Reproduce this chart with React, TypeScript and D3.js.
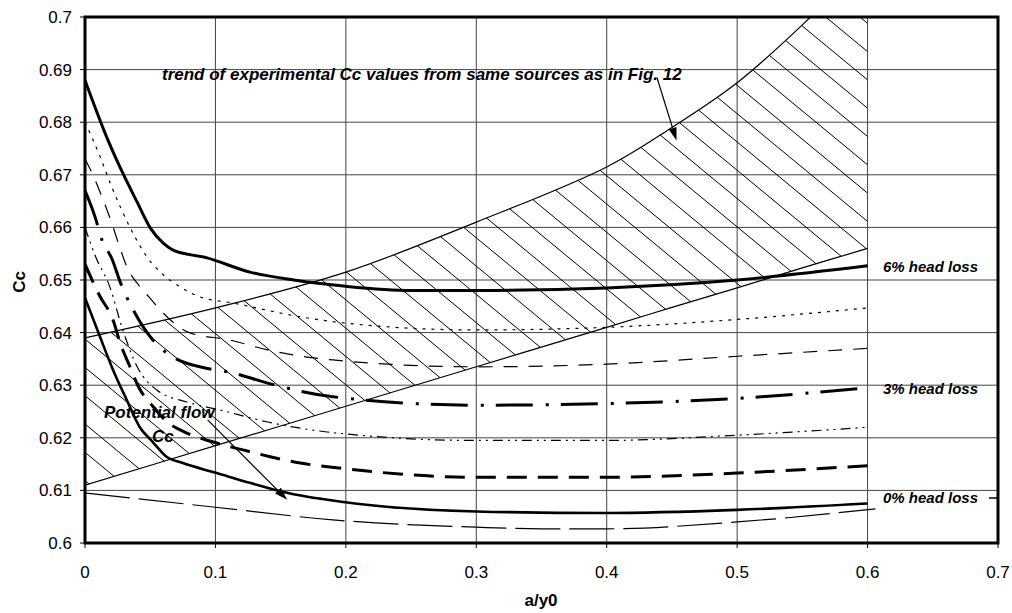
import React, { useEffect, useRef } from "react";
import * as d3 from "d3";

// tick values
const xTicks = [0, 0.1, 0.2, 0.3, 0.4, 0.5, 0.6, 0.7];
const yTicks = [0.6, 0.61, 0.62, 0.63, 0.64, 0.65, 0.66, 0.67, 0.68, 0.69, 0.7];

// hatched band: trend of experimental Cc values
const bandX = [0, 0.1, 0.2, 0.3, 0.4, 0.45, 0.5, 0.55, 0.6];
const bandUpper = [0.639, 0.6447, 0.6515, 0.661, 0.6715, 0.679, 0.6875, 0.6985, 0.711];
const bandLower = [0.611, 0.6185, 0.626, 0.6335, 0.641, 0.6448, 0.6485, 0.6523, 0.656];

// 6% head loss (thick solid)
const loss6X = [0, 0.0176, 0.029, 0.04, 0.05, 0.06, 0.0675, 0.0936, 0.1265, 0.16, 0.2, 0.25, 0.3, 0.4, 0.5, 0.6];
const loss6Y = [0.688, 0.6766, 0.6703, 0.6648, 0.6599, 0.657, 0.6557, 0.6542, 0.6515, 0.65, 0.6488, 0.648, 0.648, 0.6485, 0.65, 0.6527];

// thin dotted
const dotX = [0, 0.0115, 0.02, 0.0345, 0.0475, 0.06, 0.073, 0.088, 0.114, 0.165, 0.2, 0.3, 0.4, 0.5, 0.6];
const dotY = [0.68, 0.6735, 0.668, 0.66, 0.6544, 0.651, 0.6487, 0.6468, 0.6456, 0.643, 0.6418, 0.6405, 0.641, 0.6425, 0.6447];

// thin dashed
const dashX = [0, 0.006, 0.013, 0.02, 0.026, 0.033, 0.04, 0.05, 0.06, 0.08, 0.111, 0.14, 0.19, 0.3, 0.4, 0.5, 0.6];
const dashY = [0.673, 0.67, 0.6658, 0.6612, 0.6567, 0.652, 0.6494, 0.6465, 0.6437, 0.64, 0.6386, 0.6367, 0.6348, 0.6335, 0.634, 0.6355, 0.637];

// 3% head loss (thick dash-dot)
const loss3X = [0, 0.0077, 0.013, 0.0207, 0.027, 0.037, 0.052, 0.07, 0.088, 0.114, 0.14, 0.19, 0.3, 0.4, 0.5, 0.6];
const loss3Y = [0.667, 0.662, 0.6576, 0.654, 0.6496, 0.6443, 0.6386, 0.635, 0.6335, 0.6323, 0.6304, 0.6278, 0.6262, 0.6265, 0.6275, 0.6295];

// thin dash-dot-dot
const ddotX = [0, 0.008, 0.019, 0.029, 0.04, 0.055, 0.078, 0.1035, 0.14, 0.193, 0.3, 0.4, 0.5, 0.6];
const ddotY = [0.66, 0.6545, 0.6487, 0.6405, 0.6335, 0.6291, 0.6268, 0.6253, 0.623, 0.6209, 0.6195, 0.6195, 0.6205, 0.622];

// thick dashed
const thickDashX = [0, 0.011, 0.0215, 0.027, 0.0345, 0.041, 0.052, 0.064, 0.073, 0.101, 0.121, 0.142, 0.165, 0.193, 0.3, 0.4, 0.5, 0.6];
const thickDashY = [0.653, 0.6471, 0.6424, 0.638, 0.6335, 0.6297, 0.626, 0.6228, 0.6215, 0.619, 0.6177, 0.6164, 0.6152, 0.6143, 0.6125, 0.6125, 0.6133, 0.6147];

// 0% head loss (solid)
const loss0X = [0, 0.0115, 0.0215, 0.032, 0.042, 0.052, 0.062, 0.075, 0.101, 0.127, 0.152, 0.198, 0.3, 0.4, 0.5, 0.6];
const loss0Y = [0.6466, 0.6392, 0.6329, 0.6272, 0.622, 0.6192, 0.6165, 0.6152, 0.6133, 0.6114, 0.6097, 0.6078, 0.606, 0.6057, 0.6063, 0.6075];

// thin long dashes near the bottom
const longX = [0, 0.1, 0.19, 0.3, 0.35, 0.4, 0.5, 0.606];
const longY = [0.6095, 0.6068, 0.6044, 0.603, 0.6027, 0.6027, 0.604, 0.6065];

const series = [
  { xs: longX, ys: longY, width: 1.2, dash: "45,9" },
  { xs: loss0X, ys: loss0Y, width: 2.6, dash: null },
  { xs: thickDashX, ys: thickDashY, width: 3, dash: "20,11" },
  { xs: ddotX, ys: ddotY, width: 1.2, dash: "10,5,2,5,2,5" },
  { xs: loss3X, ys: loss3Y, width: 3, dash: "37,13,3,12" },
  { xs: dashX, ys: dashY, width: 1.2, dash: "14,11" },
  { xs: dotX, ys: dotY, width: 1.2, dash: "3,6" },
  { xs: loss6X, ys: loss6Y, width: 3, dash: null },
];

const font = "'Liberation Sans', Arial, sans-serif";

export default function App() {
  const ref = useRef<SVGSVGElement>(null);

  useEffect(() => {
    const svg = d3.select(ref.current);
    svg.selectAll("*").remove();

    const x = d3.scaleLinear().domain([0, 0.7]).range([85, 998]);
    const y = d3.scaleLinear().domain([0.6, 0.7]).range([543, 17]);

    const defs = svg.append("defs");
    defs
      .append("clipPath")
      .attr("id", "plotClip")
      .append("rect")
      .attr("x", x(0))
      .attr("y", y(0.7))
      .attr("width", x(0.7) - x(0))
      .attr("height", y(0.6) - y(0.7));

    const bandArea = d3
      .area<number>()
      .x((d) => x(d))
      .y0((d, i) => y(bandLower[i]))
      .y1((d, i) => y(bandUpper[i]))
      .curve(d3.curveCatmullRom);
    defs.append("clipPath").attr("id", "bandClip").append("path").attr("d", bandArea(bandX));

    // grid
    svg
      .append("g")
      .selectAll("line")
      .data(yTicks.slice(1, -1))
      .join("line")
      .attr("x1", x(0))
      .attr("x2", x(0.7))
      .attr("y1", (d) => y(d))
      .attr("y2", (d) => y(d))
      .attr("stroke", "#444")
      .attr("stroke-width", 1);
    svg
      .append("g")
      .selectAll("line")
      .data(xTicks.slice(1, -1))
      .join("line")
      .attr("x1", (d) => x(d))
      .attr("x2", (d) => x(d))
      .attr("y1", y(0.6))
      .attr("y2", y(0.7))
      .attr("stroke", "#444")
      .attr("stroke-width", 1);

    // hatching inside the band
    const plot = svg.append("g").attr("clip-path", "url(#plotClip)");
    const hatch = plot.append("g").attr("clip-path", "url(#bandClip)");
    const slope = 0.826;
    const step = 28.3;
    const ax = x(0.6);
    const ay = y(0.6988);
    const hatchLines = d3.range(-10, 40).map((k) => ay + k * step - slope * ax);
    hatch
      .selectAll("line")
      .data(hatchLines)
      .join("line")
      .attr("x1", x(0))
      .attr("x2", x(0.6))
      .attr("y1", (c) => c + slope * x(0))
      .attr("y2", (c) => c + slope * x(0.6))
      .attr("stroke", "#000")
      .attr("stroke-width", 1);

    const bandLine = (vals: number[]) =>
      d3
        .line<number>()
        .x((d) => x(d))
        .y((d, i) => y(vals[i]))
        .curve(d3.curveCatmullRom)(bandX);
    plot.append("path").attr("d", bandLine(bandUpper)).attr("fill", "none").attr("stroke", "#000").attr("stroke-width", 1.2);
    plot.append("path").attr("d", bandLine(bandLower)).attr("fill", "none").attr("stroke", "#000").attr("stroke-width", 1.2);

    // curves
    series.forEach((s) => {
      const line = d3
        .line<number>()
        .x((d) => x(d))
        .y((d, i) => y(s.ys[i]))
        .curve(d3.curveMonotoneX);
      plot
        .append("path")
        .attr("d", line(s.xs))
        .attr("fill", "none")
        .attr("stroke", "#000")
        .attr("stroke-width", s.width)
        .attr("stroke-dasharray", s.dash)
        .attr("stroke-linejoin", "round");
    });

    // frame
    svg
      .append("rect")
      .attr("x", x(0))
      .attr("y", y(0.7))
      .attr("width", x(0.7) - x(0))
      .attr("height", y(0.6) - y(0.7))
      .attr("fill", "none")
      .attr("stroke", "#000")
      .attr("stroke-width", 3);

    // ticks and labels
    svg
      .append("g")
      .selectAll("line")
      .data(yTicks)
      .join("line")
      .attr("x1", x(0) - 5)
      .attr("x2", x(0))
      .attr("y1", (d) => y(d))
      .attr("y2", (d) => y(d))
      .attr("stroke", "#000");
    svg
      .append("g")
      .selectAll("text")
      .data(yTicks)
      .join("text")
      .attr("x", 72)
      .attr("y", (d) => y(d) + 6)
      .attr("text-anchor", "end")
      .attr("font-family", font)
      .attr("font-size", 17)
      .text((d) => d3.format("")(+d.toFixed(2)));
    svg
      .append("g")
      .selectAll("line")
      .data(xTicks)
      .join("line")
      .attr("x1", (d) => x(d))
      .attr("x2", (d) => x(d))
      .attr("y1", y(0.6))
      .attr("y2", y(0.6) + 5)
      .attr("stroke", "#000");
    svg
      .append("g")
      .selectAll("text")
      .data(xTicks)
      .join("text")
      .attr("x", (d) => x(d))
      .attr("y", 578)
      .attr("text-anchor", "middle")
      .attr("font-family", font)
      .attr("font-size", 17)
      .text((d) => d3.format("")(+d.toFixed(1)));

    // axis titles
    svg
      .append("text")
      .attr("transform", "translate(25,282) rotate(-90)")
      .attr("text-anchor", "middle")
      .attr("font-family", font)
      .attr("font-size", 17)
      .attr("font-weight", "bold")
      .text("Cc");
    svg
      .append("text")
      .attr("x", 541)
      .attr("y", 606)
      .attr("text-anchor", "middle")
      .attr("font-family", font)
      .attr("font-size", 17)
      .attr("font-weight", "bold")
      .text("a/y0");

    // annotations
    const note = (tx: number, ty: number, str: string, size: number) =>
      svg
        .append("text")
        .attr("x", tx)
        .attr("y", ty)
        .attr("font-family", font)
        .attr("font-size", size)
        .attr("font-weight", "bold")
        .attr("font-style", "italic")
        .text(str);
    note(162, 80, "trend of experimental Cc values from same sources as in Fig. 12", 17);
    note(104, 418, "Potential flow", 17);
    note(152, 442, "Cc", 17);
    note(883, 272, "6% head loss", 15);
    note(883, 394, "3% head loss", 15);
    note(883, 503, "0% head loss", 15);
    svg.append("line").attr("x1", 989).attr("x2", 997).attr("y1", 498).attr("y2", 498).attr("stroke", "#000").attr("stroke-width", 1.5);

    const arrow = (x1: number, y1: number, x2: number, y2: number) => {
      const ang = Math.atan2(y2 - y1, x2 - x1);
      const len = 13;
      const w = 4;
      const bx = x2 - len * Math.cos(ang);
      const by = y2 - len * Math.sin(ang);
      svg.append("line").attr("x1", x1).attr("y1", y1).attr("x2", bx).attr("y2", by).attr("stroke", "#000").attr("stroke-width", 1.2);
      svg
        .append("polygon")
        .attr(
          "points",
          [
            [x2, y2],
            [bx + w * Math.sin(ang), by - w * Math.cos(ang)],
            [bx - w * Math.sin(ang), by + w * Math.cos(ang)],
          ].join(" ")
        )
        .attr("fill", "#000");
    };
    arrow(x(0.4385), y(0.6885), x(0.4535), y(0.6765));
    arrow(x(0.094), y(0.6234), x(0.155), y(0.6082));
  }, []);

  return (
    <svg
      ref={ref}
      width={1012}
      height={613}
      style={{ position: "absolute", left: 0, top: 0, background: "#fff" }}
    ></svg>
  );
}
